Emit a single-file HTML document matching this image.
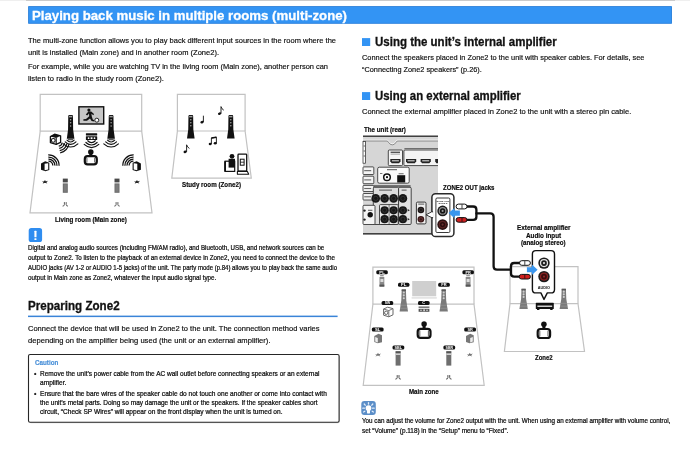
<!DOCTYPE html><html lang="en"><head><meta charset="utf-8"><title>Playing back music in multiple rooms (multi-zone)</title>
<style>
html,body{margin:0;padding:0;background:#fff;}
body{width:690px;height:451px;position:relative;overflow:hidden;font-family:"Liberation Sans",sans-serif;}
.t{position:absolute;white-space:nowrap;line-height:1;transform-origin:0 0;margin:0;padding:0;}
.r{font-weight:400;-webkit-text-stroke:0.16px currentColor;}
.h{font-weight:700;-webkit-text-stroke:0.3px currentColor;}
.b{font-weight:700;-webkit-text-stroke:0.18px currentColor;}
.m{font-weight:400;-webkit-text-stroke:0.22px currentColor;}
#page{position:absolute;left:0;top:0;width:690px;height:451px;will-change:transform;}
svg{position:absolute;left:0;top:0;}
</style></head><body><div id="page">

<svg width="690" height="451" viewBox="0 0 690 451" font-family="Liberation Sans, sans-serif">
<rect x="0" y="0" width="690" height="0.8" fill="#ececec"/>
<rect x="26" y="0" width="649" height="0.9" fill="#c8c8c8"/>
<rect x="28.3" y="6.3" width="643.6" height="17.3" fill="#3394f4"/>
<rect x="28.65" y="6.65" width="642.9" height="16.6" fill="none" stroke="#2a7cd4" stroke-width="0.7"/>
<rect x="362" y="38.1" width="8.2" height="7.9" fill="#3394f4"/>
<rect x="362" y="92.1" width="8.2" height="7.9" fill="#3394f4"/>
<rect x="28" y="315.6" width="309.6" height="1.5" fill="#3a84d8"/>
<rect x="29.2" y="355.4" width="310.6" height="67.9" rx="1.8" fill="#000" opacity="0.16"/>
<rect x="28.5" y="354.5" width="310.6" height="67.8" rx="1.6" fill="#fff" stroke="#262626" stroke-width="1.1"/>
<path d="M40.2 131.2V94.4H141.7V131.2" fill="none" stroke="#c2c2c2" stroke-width="1.2"/>
<path d="M40.2 131.2H141.7L152.0 212.9H30.0Z" fill="none" stroke="#c2c2c2" stroke-width="1.2"/>
<rect x="78.9" y="106.8" width="24.8" height="17.2" fill="#c6c6c6" stroke="#111" stroke-width="1.4"/>
<circle cx="88.9" cy="110.1" r="1.6" fill="#111"/>
<path d="M88.4 111.4L85.8 114.4L87.2 115.4L89 113.6L89.2 116.2L86 119L83.4 119.2V120.8H87L90 118.4L91.6 121L94.4 121.6V120.2L92.8 119.6L91.8 116.4L91.4 113.8L93.4 115.2L94 114L91.2 111.6Z" fill="#111"/>
<circle cx="96.8" cy="120.2" r="2" fill="#fff" stroke="#111" stroke-width="0.9"/>
<path d="M68.75 115.0H72.44999999999999L72.94999999999999 116.0L73.14999999999999 129.694L74.39999999999999 138.7H66.8L68.05 129.694L68.25 116.0Z" fill="#111"/>
<rect x="68.95" y="115.9" width="3.3000000000000003" height="1.5" fill="#9a9a9a"/>
<circle cx="70.6" cy="119.74" r="0.75" fill="#aaa"/>
<circle cx="70.6" cy="122.82" r="0.75" fill="#aaa"/>
<circle cx="70.6" cy="125.90" r="0.75" fill="#aaa"/>
<rect x="68.0" y="139.3" width="5.2" height="0.9" fill="#111"/>
<path d="M67.00 140.23Q68.62 142.00 70.6 142.0Q72.58 142.00 74.20 140.23" fill="none" stroke="#111" stroke-width="1.15" stroke-linecap="round"/>
<path d="M65.20 141.95Q67.63 144.40 70.6 144.4Q73.57 144.40 76.00 141.95" fill="none" stroke="#111" stroke-width="1.15" stroke-linecap="round"/>
<path d="M63.30 143.83Q66.58 147.00 70.6 147.0Q74.61 147.00 77.90 143.83" fill="none" stroke="#111" stroke-width="1.15" stroke-linecap="round"/>
<path d="M109.25 115.0H112.94999999999999L113.44999999999999 116.0L113.64999999999999 129.694L114.89999999999999 138.7H107.3L108.55 129.694L108.75 116.0Z" fill="#111"/>
<rect x="109.45" y="115.9" width="3.3000000000000003" height="1.5" fill="#9a9a9a"/>
<circle cx="111.1" cy="119.74" r="0.75" fill="#aaa"/>
<circle cx="111.1" cy="122.82" r="0.75" fill="#aaa"/>
<circle cx="111.1" cy="125.90" r="0.75" fill="#aaa"/>
<rect x="108.5" y="139.3" width="5.2" height="0.9" fill="#111"/>
<path d="M107.50 140.23Q109.12 142.00 111.1 142.0Q113.08 142.00 114.70 140.23" fill="none" stroke="#111" stroke-width="1.15" stroke-linecap="round"/>
<path d="M105.70 141.95Q108.13 144.40 111.1 144.4Q114.07 144.40 116.50 141.95" fill="none" stroke="#111" stroke-width="1.15" stroke-linecap="round"/>
<path d="M103.80 143.83Q107.08 147.00 111.1 147.0Q115.11 147.00 118.40 143.83" fill="none" stroke="#111" stroke-width="1.15" stroke-linecap="round"/>
<rect x="85.9" y="133.3" width="11.3" height="2.2" rx="0.5" fill="#111"/>
<rect x="85.9" y="136.3" width="11.3" height="3.8" rx="0.5" fill="#111"/>
<circle cx="88.6" cy="138.2" r="0.9" fill="#fff"/><circle cx="94.5" cy="138.2" r="0.9" fill="#fff"/><rect x="90.6" y="137.3" width="1.9" height="1.8" fill="#fff"/>
<path d="M87.70 140.76Q89.41 142.60 91.5 142.6Q93.59 142.60 95.30 140.76" fill="none" stroke="#111" stroke-width="1.15" stroke-linecap="round"/>
<path d="M85.90 142.47Q88.42 145.00 91.5 145.0Q94.58 145.00 97.10 142.47" fill="none" stroke="#111" stroke-width="1.15" stroke-linecap="round"/>
<path d="M84.20 144.43Q87.48 147.60 91.5 147.6Q95.52 147.60 98.80 144.43" fill="none" stroke="#111" stroke-width="1.15" stroke-linecap="round"/>
<path d="M50.4 136.6L54.6 134.2L60.6 135.8V142.4L56.2 144.4L50.4 142.6Z" fill="#fff" stroke="#111" stroke-width="1.3" stroke-linejoin="round"/>
<path d="M50.4 136.6L54.6 134.2L60.6 135.8L56.2 137.9Z" fill="#111"/>
<path d="M56.2 137.9V144.4" fill="none" stroke="#111" stroke-width="1.1"/>
<circle cx="53.3" cy="140.4" r="1.9" fill="#fff" stroke="#111" stroke-width="1.1"/>
<path d="M62.30 142.56A4.60 4.60 0 0 1 58.76 146.10" fill="none" stroke="#111" stroke-width="1.2"/>
<path d="M64.55 143.03A6.90 6.90 0 0 1 59.23 148.35" fill="none" stroke="#111" stroke-width="1.2"/>
<path d="M66.80 143.51A9.20 9.20 0 0 1 59.71 150.60" fill="none" stroke="#111" stroke-width="1.2"/>
<path d="M69.05 143.99A11.50 11.50 0 0 1 60.19 152.85" fill="none" stroke="#111" stroke-width="1.2"/>
<circle cx="90.8" cy="151.9" r="2.75" fill="#111"/>
<rect x="89.3" y="153.4" width="3" height="3.299999999999983" fill="#111"/>
<rect x="84.8" y="156.2" width="12.0" height="8.100000000000023" rx="2.8" fill="#fff" stroke="#111" stroke-width="2.2"/>
<path d="M86.89999999999999 158.0V162.5M94.7 158.0V162.5" stroke="#111" stroke-width="0.7" fill="none"/>
<path d="M41.00 163.50L45.20 161.30L49.30 162.70L49.30 169.90L45.40 171.30L41.00 169.70Z" fill="#111"/>
<path d="M44.60 163.70L48.20 163.30L48.20 169.50L44.60 170.20Z" fill="#fff"/>
<path d="M48.45 161.20A4.20 4.20 0 0 1 52.80 165.55" fill="none" stroke="#111" stroke-width="1.25"/>
<path d="M48.38 159.10A6.30 6.30 0 0 1 54.90 165.62" fill="none" stroke="#111" stroke-width="1.25"/>
<path d="M48.31 157.01A8.40 8.40 0 0 1 56.99 165.69" fill="none" stroke="#111" stroke-width="1.25"/>
<path d="M48.23 154.91A10.50 10.50 0 0 1 59.09 165.77" fill="none" stroke="#111" stroke-width="1.25"/>
<path d="M140.90 163.50L136.70 161.30L132.60 162.70L132.60 169.90L136.50 171.30L140.90 169.70Z" fill="#111"/>
<path d="M137.30 163.70L133.70 163.30L133.70 169.50L137.30 170.20Z" fill="#fff"/>
<path d="M129.10 165.55A4.20 4.20 0 0 1 133.45 161.20" fill="none" stroke="#111" stroke-width="1.25"/>
<path d="M127.00 165.62A6.30 6.30 0 0 1 133.52 159.10" fill="none" stroke="#111" stroke-width="1.25"/>
<path d="M124.91 165.69A8.40 8.40 0 0 1 133.59 157.01" fill="none" stroke="#111" stroke-width="1.25"/>
<path d="M122.81 165.77A10.50 10.50 0 0 1 133.67 154.91" fill="none" stroke="#111" stroke-width="1.25"/>
<path d="M42.0 181.4L44.0 181.60000000000002L45.0 180.0L45.8 181.4L48.0 180.8L46.4 182.4L47.4 183.60000000000002L45.0 182.8L42.4 183.60000000000002L43.6 182.4Z" fill="#111"/>
<path d="M134.0 181.4L136.0 181.60000000000002L137.0 180.0L137.8 181.4L140.0 180.8L138.4 182.4L139.4 183.60000000000002L137.0 182.8L134.4 183.60000000000002L135.6 182.4Z" fill="#111"/>
<rect x="62.8" y="178.6" width="5" height="3.8" fill="#4a4a4a"/>
<rect x="62.8" y="183.4" width="5" height="9.4" fill="#6a6a6a"/>
<rect x="63.699999999999996" y="184.4" width="3.2" height="7.4" fill="#7c7c7c"/>
<path d="M64.39999999999999 202.1V204.6Q64.39999999999999 206.1 62.599999999999994 206.1M66.2 202.1V204.6Q66.2 206.1 68.0 206.1" fill="none" stroke="#555" stroke-width="0.95"/>
<rect x="114.5" y="178.6" width="5" height="3.8" fill="#4a4a4a"/>
<rect x="114.5" y="183.4" width="5" height="9.4" fill="#6a6a6a"/>
<rect x="115.4" y="184.4" width="3.2" height="7.4" fill="#7c7c7c"/>
<path d="M116.1 202.1V204.6Q116.1 206.1 114.3 206.1M117.9 202.1V204.6Q117.9 206.1 119.7 206.1" fill="none" stroke="#555" stroke-width="0.95"/>
<path d="M177.4 131.0V94.3H245.1V131.0" fill="none" stroke="#c2c2c2" stroke-width="1.2"/>
<path d="M177.4 131.0H245.1L251.3 178.2H171.8Z" fill="none" stroke="#c2c2c2" stroke-width="1.2"/>
<path d="M188.95000000000002 115.0H192.65L193.15 116.0L193.35 129.57L194.60000000000002 138.5H187.0L188.25000000000003 129.57L188.45000000000002 116.0Z" fill="#111"/>
<rect x="189.15" y="115.9" width="3.3000000000000003" height="1.5" fill="#9a9a9a"/>
<circle cx="190.8" cy="119.70" r="0.75" fill="#aaa"/>
<circle cx="190.8" cy="122.75" r="0.75" fill="#aaa"/>
<circle cx="190.8" cy="125.81" r="0.75" fill="#aaa"/>
<path d="M228.95000000000002 115.0H232.65L233.15 116.0L233.35 129.57L234.60000000000002 138.5H227.0L228.25000000000003 129.57L228.45000000000002 116.0Z" fill="#111"/>
<rect x="229.15" y="115.9" width="3.3000000000000003" height="1.5" fill="#9a9a9a"/>
<circle cx="230.8" cy="119.70" r="0.75" fill="#aaa"/>
<circle cx="230.8" cy="122.75" r="0.75" fill="#aaa"/>
<circle cx="230.8" cy="125.81" r="0.75" fill="#aaa"/>
<ellipse cx="202.0" cy="122.2" rx="1.7" ry="1.3" fill="#111" transform="rotate(-20 202.0 122.2)"/>
<path d="M203.4 122.2V115.7" fill="none" stroke="#111" stroke-width="0.9"/>
<ellipse cx="219.6" cy="113.6" rx="1.7" ry="1.3" fill="#111" transform="rotate(-20 219.6 113.6)"/>
<path d="M221.0 113.6V106.6Q221.6 109.0 223.79999999999998 110.19999999999999" fill="none" stroke="#111" stroke-width="0.9"/>
<ellipse cx="210.2" cy="144.0" rx="1.5" ry="1.2" fill="#111"/><ellipse cx="215.2" cy="143.2" rx="1.5" ry="1.2" fill="#111"/>
<path d="M211.39999999999998 144.0V138.0L216.39999999999998 137.2V143.2" fill="none" stroke="#111" stroke-width="0.9"/>
<path d="M211.39999999999998 138.0L216.39999999999998 137.2" fill="none" stroke="#111" stroke-width="1.6"/>
<ellipse cx="185.2" cy="151.8" rx="1.7" ry="1.3" fill="#111" transform="rotate(-20 185.2 151.8)"/>
<path d="M186.6 151.8V144.8Q187.2 147.20000000000002 189.39999999999998 148.4" fill="none" stroke="#111" stroke-width="0.9"/>
<rect x="225.1" y="161.2" width="9.6" height="10.2" fill="#fff" stroke="#111" stroke-width="1.2"/>
<path d="M225.1 161.2V171.4" stroke="#111" stroke-width="1.8"/>
<circle cx="232.0" cy="156.3" r="2.4" fill="#111"/>
<rect x="228.6" y="158.8" width="6.4" height="8.8" fill="#111"/>
<rect x="238.0" y="154.1" width="8.7" height="17.0" rx="0.8" fill="#fff" stroke="#111" stroke-width="1.3"/>
<rect x="240.3" y="159.2" width="3.8" height="6.0" fill="#fff" stroke="#111" stroke-width="1"/>
<path d="M240.3 162.2H244.1" stroke="#111" stroke-width="0.8"/>
<path d="M237.4 171.4H247.4L248.7 174.2H237.4Z" fill="#fff" stroke="#111" stroke-width="1.1" stroke-linejoin="round"/>
<rect x="28.7" y="228.1" width="13.4" height="13.9" rx="2.6" fill="#2f8df0"/>
<rect x="34.4" y="230.7" width="2.1" height="6.5" rx="0.5" fill="#fff"/><rect x="34.4" y="238.2" width="2.1" height="1.8" rx="0.5" fill="#fff"/>
<rect x="361.3" y="400.9" width="14.5" height="14.2" rx="3" fill="#5b8ec8"/>
<g stroke="#e3eefa" stroke-width="1.3" stroke-linecap="round"><path d="M368.5 402.6V404M364.2 404L365.2 405.2M372.8 404L371.8 405.2M362.8 408.2H364.4M374.2 408.2H372.6M363.6 412L364.8 411.2M373.4 412L372.2 411.2"/></g>
<circle cx="368.5" cy="408.1" r="2.9" fill="#fff"/><rect x="367" y="409.8" width="3" height="3.6" rx="0.6" fill="#fff"/>
<rect x="363" y="135.6" width="75" height="98.6" fill="#d6d6d6"/>
<rect x="363" y="135.6" width="75" height="1.2" fill="#1c1c1c"/>
<rect x="363" y="233.2" width="75" height="1.3" fill="#1c1c1c"/>
<path d="M363 140.2H387.6L390.4 143.4Q392.3 144.6 394.2 143.4L397 140.2H438" fill="none" stroke="#fff" stroke-width="0.9"/>
<path d="M363 141H387.4L390.2 144.2Q392.3 145.5 394.4 144.2L397.2 141H438" fill="none" stroke="#555" stroke-width="0.6"/>
<rect x="363" y="141.6" width="2.6" height="21.6" fill="#fff" stroke="#222" stroke-width="0.7"/>
<rect x="363" y="166.9" width="10.8" height="7.6" rx="0.8" fill="#f4f4f4" stroke="#2a2a2a" stroke-width="0.8"/>
<rect x="364.2" y="170.09" width="7" height="1.1" fill="#666"/>
<rect x="363" y="176.2" width="10.8" height="7.5" rx="0.8" fill="#f4f4f4" stroke="#2a2a2a" stroke-width="0.8"/>
<rect x="364.2" y="179.35" width="7" height="1.1" fill="#666"/>
<rect x="363" y="185.4" width="10.8" height="6.1" rx="0.8" fill="#f4f4f4" stroke="#2a2a2a" stroke-width="0.8"/>
<rect x="364.2" y="187.96" width="7" height="1.1" fill="#666"/>
<rect x="363" y="193.5" width="10.8" height="6.5" rx="0.8" fill="#f0f0f0" stroke="#2a2a2a" stroke-width="0.8"/>
<rect x="364.2" y="196.23" width="7" height="1.1" fill="#666"/>
<path d="M363.6 146H365M363.6 151H365M363.6 156H365" stroke="#444" stroke-width="0.8"/>
<rect x="388.3" y="150" width="14.2" height="15.6" rx="1" fill="#f4f4f4" stroke="#222" stroke-width="0.8"/>
<rect x="390.6" y="151.6" width="9.4" height="1.6" fill="#555"/><rect x="390.6" y="154.2" width="9.4" height="0.6" fill="#999"/>
<path d="M390.3 159.0H400.5V161.31L399.1 163.2H391.7L390.3 161.31Z" fill="#222"/>
<rect x="391.90000000000003" y="160.1" width="6.999999999999999" height="1.3" fill="#bbb"/>
<path d="M438 150H404.9Q403.9 150 403.9 151V164.6Q403.9 165.6 404.9 165.6H438" fill="#f4f4f4" stroke="#222" stroke-width="0.8"/>
<rect x="404.4" y="148" width="33.6" height="0.8" fill="#555"/>
<path d="M406.0 159.0H416.2V161.31L414.8 163.2H407.4L406.0 161.31Z" fill="#222"/>
<rect x="407.6" y="160.1" width="6.999999999999999" height="1.3" fill="#bbb"/>
<path d="M420.6 159.0H430.8V161.31L429.40000000000003 163.2H422.0L420.6 161.31Z" fill="#222"/>
<rect x="422.20000000000005" y="160.1" width="6.999999999999999" height="1.3" fill="#bbb"/>
<path d="M438 159H435.2V161.4L436.4 163.2H438Z" fill="#222"/>
<rect x="377.7" y="167.2" width="31.5" height="16" rx="1.6" fill="#fafafa" stroke="#222" stroke-width="0.8"/>
<rect x="387" y="169.2" width="10" height="1" fill="#555"/>
<circle cx="387" cy="177.2" r="3.3" fill="#fff" stroke="#111" stroke-width="1.5"/><circle cx="387" cy="177.2" r="1.1" fill="#111"/>
<rect x="397.2" y="175.2" width="8" height="7.3" fill="#111"/><rect x="398.6" y="173.4" width="5" height="0.8" fill="#444"/>
<rect x="380" y="173" width="2.4" height="0.8" fill="#555"/>
<rect x="373.3" y="187.3" width="25.3" height="37.2" rx="1.2" fill="#dcdcdc" stroke="#222" stroke-width="0.8"/>
<rect x="398.6" y="187.3" width="12.6" height="37.2" rx="1.2" fill="#e2e2e2" stroke="#222" stroke-width="0.8"/>
<rect x="374" y="185.4" width="36.6" height="1.2" fill="#333"/>
<rect x="379" y="189.6" width="13" height="1" fill="#555"/><rect x="401.6" y="189.6" width="5" height="1" fill="#555"/>
<rect x="379.5" y="204.6" width="18.7" height="19.9" rx="1" fill="#eaeaea" stroke="#222" stroke-width="0.8"/>
<path d="M389.1 204.6V224.5" stroke="#222" stroke-width="0.6"/>
<circle cx="375.7" cy="198.4" r="4.3" fill="#171717"/>
<circle cx="375.7" cy="198.4" r="2.15" fill="none" stroke="#484848" stroke-width="0.5"/>
<circle cx="384.6" cy="198.4" r="4.3" fill="#171717"/>
<circle cx="384.6" cy="198.4" r="2.15" fill="none" stroke="#484848" stroke-width="0.5"/>
<circle cx="393.6" cy="198.4" r="4.3" fill="#171717"/>
<circle cx="393.6" cy="198.4" r="2.15" fill="none" stroke="#484848" stroke-width="0.5"/>
<circle cx="402.9" cy="198.4" r="4.3" fill="#171717"/>
<circle cx="402.9" cy="198.4" r="2.15" fill="none" stroke="#484848" stroke-width="0.5"/>
<circle cx="384.6" cy="210.3" r="4.1" fill="#171717"/>
<circle cx="384.6" cy="210.3" r="2.05" fill="none" stroke="#484848" stroke-width="0.5"/>
<circle cx="393.6" cy="210.3" r="4.1" fill="#171717"/>
<circle cx="393.6" cy="210.3" r="2.05" fill="none" stroke="#484848" stroke-width="0.5"/>
<circle cx="402.9" cy="210.3" r="4.1" fill="#171717"/>
<circle cx="402.9" cy="210.3" r="2.05" fill="none" stroke="#484848" stroke-width="0.5"/>
<path d="M407.6 209.0L409.8 210.3L407.6 211.60000000000002Z" fill="#222"/>
<circle cx="384.6" cy="219.2" r="4.1" fill="#171717"/>
<circle cx="384.6" cy="219.2" r="2.05" fill="none" stroke="#484848" stroke-width="0.5"/>
<circle cx="393.6" cy="219.2" r="4.1" fill="#171717"/>
<circle cx="393.6" cy="219.2" r="2.05" fill="none" stroke="#484848" stroke-width="0.5"/>
<circle cx="402.9" cy="219.2" r="4.1" fill="#171717"/>
<circle cx="402.9" cy="219.2" r="2.05" fill="none" stroke="#484848" stroke-width="0.5"/>
<path d="M407.6 217.89999999999998L409.8 219.2L407.6 220.5Z" fill="#222"/>
<rect x="363" y="205.3" width="12" height="19.2" rx="1" fill="#f4f4f4" stroke="#222" stroke-width="0.8"/>
<circle cx="370.2" cy="214.8" r="2.7" fill="#111"/><rect x="368" y="209.8" width="4.4" height="0.9" fill="#444"/>
<circle cx="364.5" cy="210.6" r="1.2" fill="#222"/><circle cx="364.5" cy="219.6" r="1.2" fill="#222"/>
<rect x="416.4" y="202.1" width="9.6" height="21.8" rx="1.2" fill="#efefef" stroke="#222" stroke-width="0.9"/>
<rect x="418.2" y="203.6" width="6" height="1" fill="#555"/>
<circle cx="420.9" cy="210.0" r="3.3" fill="#1d1616"/>
<circle cx="420.9" cy="210.0" r="1.65" fill="none" stroke="#484848" stroke-width="0.5"/>
<circle cx="420.9" cy="219.3" r="3.3" fill="#3a1616"/>
<circle cx="420.9" cy="219.3" r="1.65" fill="none" stroke="#8a5050" stroke-width="0.5"/>
<rect x="431.9" y="193.7" width="22" height="42.8" rx="3.6" fill="#fff" stroke="#2a2a2a" stroke-width="1.5"/>
<path d="M432.6 211.4L426 214.8L432.6 218Z" fill="#fff" stroke="#2a2a2a" stroke-width="0.9" stroke-linejoin="round"/>
<path d="M432.4 212.4V217" stroke="#fff" stroke-width="1.9"/>
<rect x="435.9" y="198" width="14" height="34.5" rx="1.2" fill="#fff" stroke="#222" stroke-width="0.9"/>
<text x="442.9" y="201.9" font-size="2.5" font-weight="700" text-anchor="middle" fill="#222">ZONE OUT</text>
<text x="442.9" y="204.4" font-size="2.5" font-weight="700" text-anchor="middle" fill="#222">ZONE 2</text>
<circle cx="442.6" cy="210.9" r="5.3" fill="#1b1b1b"/>
<circle cx="442.6" cy="210.9" r="3.82" fill="#8f8f8f"/>
<circle cx="442.6" cy="210.9" r="2.65" fill="#111"/>
<circle cx="442.6" cy="210.9" r="1.06" fill="#999"/>
<circle cx="442.6" cy="224.6" r="5.3" fill="#2a1212"/>
<circle cx="442.6" cy="224.6" r="3.82" fill="#5a2222"/>
<circle cx="442.6" cy="224.6" r="2.65" fill="#2a0e0e"/>
<circle cx="442.6" cy="224.6" r="1.06" fill="#6a3030"/>
<path d="M372.9 304.2V267.1H474.0V304.2" fill="none" stroke="#c2c2c2" stroke-width="1.2"/>
<path d="M372.9 304.2H474.0L484.2 385.3H363.2Z" fill="none" stroke="#c2c2c2" stroke-width="1.2"/>
<rect x="412.2" y="281" width="24" height="15.3" fill="#cfcfcf"/>
<rect x="411.6" y="297.6" width="25.2" height="0.7" fill="#bbb"/>
<path d="M401.7 289.4H405.90000000000003L406.3 300.4L408.0 311.4H399.6L401.3 300.4Z" fill="#7a7a7a"/>
<rect x="401.7" y="289.4" width="4.2" height="1.6" fill="#5a5a5a"/>
<circle cx="403.8" cy="292.48" r="1.05" fill="#cfcfcf"/>
<circle cx="403.8" cy="295.34" r="1.05" fill="#cfcfcf"/>
<circle cx="403.8" cy="298.20" r="1.05" fill="#cfcfcf"/>
<path d="M400.6 305.23999999999995H407.0M400.1 308.32H407.5" stroke="#9c9c9c" stroke-width="0.6"/>
<path d="M441.59999999999997 289.4H445.8L446.2 300.4L447.9 311.4H439.5L441.2 300.4Z" fill="#7a7a7a"/>
<rect x="441.59999999999997" y="289.4" width="4.2" height="1.6" fill="#5a5a5a"/>
<circle cx="443.7" cy="292.48" r="1.05" fill="#cfcfcf"/>
<circle cx="443.7" cy="295.34" r="1.05" fill="#cfcfcf"/>
<circle cx="443.7" cy="298.20" r="1.05" fill="#cfcfcf"/>
<path d="M440.5 305.23999999999995H446.9M440.0 308.32H447.4" stroke="#9c9c9c" stroke-width="0.6"/>
<rect x="379.5" y="277" width="4.8" height="9.6" fill="#8a8a8a"/><rect x="380.4" y="279" width="3" height="3" fill="#ddd"/><rect x="379.5" y="284.6" width="4.8" height="2" fill="#555"/><rect x="380.09999999999997" y="275.4" width="3.6" height="0.8" fill="#555"/>
<rect x="465.70000000000005" y="277" width="4.8" height="9.6" fill="#8a8a8a"/><rect x="466.6" y="279" width="3" height="3" fill="#ddd"/><rect x="465.70000000000005" y="284.6" width="4.8" height="2" fill="#555"/><rect x="466.3" y="275.4" width="3.6" height="0.8" fill="#555"/>
<rect x="376.3" y="270.3" width="11.50" height="4.00" rx="1.5" fill="#111"/>
<text x="382.05" y="273.75" font-size="4.3" font-weight="700" fill="#fff" text-anchor="middle" textLength="5.4" lengthAdjust="spacingAndGlyphs">PL</text>
<rect x="462.4" y="270.3" width="11.50" height="4.00" rx="1.5" fill="#111"/>
<text x="468.15" y="273.75" font-size="4.3" font-weight="700" fill="#fff" text-anchor="middle" textLength="5.4" lengthAdjust="spacingAndGlyphs">PR</text>
<rect x="398.0" y="282.7" width="11.40" height="4.00" rx="1.5" fill="#111"/>
<text x="403.70" y="286.15" font-size="4.3" font-weight="700" fill="#fff" text-anchor="middle" textLength="5.4" lengthAdjust="spacingAndGlyphs">FL</text>
<rect x="438.2" y="282.7" width="11.60" height="4.00" rx="1.5" fill="#111"/>
<text x="444.00" y="286.15" font-size="4.3" font-weight="700" fill="#fff" text-anchor="middle" textLength="5.4" lengthAdjust="spacingAndGlyphs">FR</text>
<rect x="381.6" y="301.0" width="11.60" height="4.00" rx="1.5" fill="#111"/>
<text x="387.40" y="304.45" font-size="4.3" font-weight="700" fill="#fff" text-anchor="middle" textLength="5.4" lengthAdjust="spacingAndGlyphs">SW</text>
<rect x="418.0" y="301.0" width="11.60" height="4.00" rx="1.5" fill="#111"/>
<text x="423.80" y="304.45" font-size="4.3" font-weight="700" fill="#fff" text-anchor="middle" textLength="2.9" lengthAdjust="spacingAndGlyphs">C</text>
<path d="M383.6 309L387.6 307.2L393 308.6V314.8L388.8 316.8L383.6 315.2Z" fill="#fff" stroke="#666" stroke-width="1"/>
<path d="M383.6 309L388.8 310.6V316.8M388.8 310.6L393 308.6" fill="none" stroke="#666" stroke-width="0.9"/>
<circle cx="386.2" cy="312.8" r="1.7" fill="#fff" stroke="#666" stroke-width="1"/>
<rect x="418.6" y="306.4" width="10.8" height="1.6" fill="#777"/><rect x="418.6" y="308.8" width="10.8" height="3" fill="#555"/>
<circle cx="421" cy="310.3" r="0.8" fill="#ddd"/><circle cx="427" cy="310.3" r="0.8" fill="#ddd"/><rect x="423.3" y="309.4" width="1.6" height="1.8" fill="#ddd"/>
<circle cx="424.1" cy="324.0" r="2.75" fill="#111"/>
<rect x="422.6" y="325.5" width="3" height="3.8000000000000114" fill="#111"/>
<rect x="417.70000000000005" y="328.8" width="12.8" height="9.0" rx="2.8" fill="#fff" stroke="#111" stroke-width="2.2"/>
<path d="M419.80000000000007 330.6V336.0M428.4 330.6V336.0" stroke="#111" stroke-width="0.7" fill="none"/>
<rect x="371.8" y="327.6" width="11.80" height="4.00" rx="1.5" fill="#111"/>
<text x="377.70" y="331.05" font-size="4.3" font-weight="700" fill="#fff" text-anchor="middle" textLength="5.4" lengthAdjust="spacingAndGlyphs">SL</text>
<rect x="464.2" y="327.6" width="11.80" height="4.00" rx="1.5" fill="#111"/>
<text x="470.10" y="331.05" font-size="4.3" font-weight="700" fill="#fff" text-anchor="middle" textLength="5.4" lengthAdjust="spacingAndGlyphs">SR</text>
<rect x="392.5" y="345.4" width="11.80" height="4.00" rx="1.5" fill="#111"/>
<text x="398.40" y="348.85" font-size="4.3" font-weight="700" fill="#fff" text-anchor="middle" textLength="7.6" lengthAdjust="spacingAndGlyphs">SBL</text>
<rect x="443.4" y="345.4" width="11.80" height="4.00" rx="1.5" fill="#111"/>
<text x="449.30" y="348.85" font-size="4.3" font-weight="700" fill="#fff" text-anchor="middle" textLength="7.6" lengthAdjust="spacingAndGlyphs">SBR</text>
<path d="M374.3 335.89L378.535 333.8L382.0 335.225V342.16L377.765 343.3L374.3 341.875Z" fill="#777"/>
<path d="M375.2 337L377.8 337.9V342.4L375.2 341.4Z" fill="#eee"/>
<path d="M466.0 335.89L470.235 333.8L473.7 335.225V342.16L469.465 343.3L466.0 341.875Z" fill="#777"/>
<path d="M472.8 337L470.2 337.9V342.4L472.8 341.4Z" fill="#eee"/>
<path d="M375.0 354.20000000000005L377.0 354.40000000000003L378.0 352.8L378.8 354.20000000000005L381.0 353.6L379.4 355.20000000000005L380.4 356.40000000000003L378.0 355.6L375.4 356.40000000000003L376.6 355.20000000000005Z" fill="#6a6a6a"/>
<path d="M466.8 354.20000000000005L468.8 354.40000000000003L469.8 352.8L470.6 354.20000000000005L472.8 353.6L471.2 355.20000000000005L472.2 356.40000000000003L469.8 355.6L467.2 356.40000000000003L468.40000000000003 355.20000000000005Z" fill="#6a6a6a"/>
<rect x="395.6" y="351.4" width="5" height="14.2" fill="#6e6e6e"/><rect x="395.6" y="351.4" width="5" height="1.2" fill="#444"/><rect x="395.6" y="353.4" width="5" height="1.6" fill="#cfcfcf"/>
<path d="M397.20000000000005 375.09999999999997V377.59999999999997Q397.20000000000005 379.09999999999997 395.40000000000003 379.09999999999997M399.0 375.09999999999997V377.59999999999997Q399.0 379.09999999999997 400.8 379.09999999999997" fill="none" stroke="#444" stroke-width="0.95"/>
<rect x="446.3" y="351.4" width="5" height="14.2" fill="#6e6e6e"/><rect x="446.3" y="351.4" width="5" height="1.2" fill="#444"/><rect x="446.3" y="353.4" width="5" height="1.6" fill="#cfcfcf"/>
<path d="M447.90000000000003 375.09999999999997V377.59999999999997Q447.90000000000003 379.09999999999997 446.1 379.09999999999997M449.7 375.09999999999997V377.59999999999997Q449.7 379.09999999999997 451.5 379.09999999999997" fill="none" stroke="#444" stroke-width="0.95"/>
<path d="M510.0 303.6V266.6H578.0V303.6" fill="none" stroke="#c2c2c2" stroke-width="1.2"/>
<path d="M510.0 303.6H578.0L584.5 351.5H504.4Z" fill="none" stroke="#c2c2c2" stroke-width="1.2"/>
<path d="M521.5 288.8H525.7L526.1 298.9L527.8000000000001 309.0H519.4L521.1 298.9Z" fill="#7a7a7a"/>
<rect x="521.5" y="288.8" width="4.2" height="1.6" fill="#5a5a5a"/>
<circle cx="523.6" cy="291.63" r="1.05" fill="#cfcfcf"/>
<circle cx="523.6" cy="294.25" r="1.05" fill="#cfcfcf"/>
<circle cx="523.6" cy="296.88" r="1.05" fill="#cfcfcf"/>
<path d="M520.4 303.344H526.8000000000001M519.9 306.172H527.3000000000001" stroke="#9c9c9c" stroke-width="0.6"/>
<path d="M561.6999999999999 288.8H565.9L566.3 298.9L568.0 309.0H559.5999999999999L561.3 298.9Z" fill="#7a7a7a"/>
<rect x="561.6999999999999" y="288.8" width="4.2" height="1.6" fill="#5a5a5a"/>
<circle cx="563.8" cy="291.63" r="1.05" fill="#cfcfcf"/>
<circle cx="563.8" cy="294.25" r="1.05" fill="#cfcfcf"/>
<circle cx="563.8" cy="296.88" r="1.05" fill="#cfcfcf"/>
<path d="M560.5999999999999 303.344H567.0M560.0999999999999 306.172H567.5" stroke="#9c9c9c" stroke-width="0.6"/>
<rect x="535.8" y="302.8" width="18" height="6.2" rx="0.6" fill="#111"/><rect x="537.4" y="305.6" width="14.8" height="1.2" fill="#fff"/><rect x="537" y="309" width="2.4" height="1" fill="#111"/><rect x="550.2" y="309" width="2.4" height="1" fill="#111"/>
<circle cx="543.9" cy="324.2" r="2.75" fill="#111"/>
<rect x="542.4" y="325.7" width="3" height="3.8000000000000114" fill="#111"/>
<rect x="537.6999999999999" y="329.0" width="12.4" height="9.0" rx="2.8" fill="#fff" stroke="#111" stroke-width="2.2"/>
<path d="M539.8 330.8V336.2M548.0 330.8V336.2" stroke="#111" stroke-width="0.7" fill="none"/>
<path d="M535.9 250.6H551Q554.5 250.6 554.5 254.1V289.4Q554.5 292.9 551 292.9H547.3L544 299.4L540.9 292.9H535.9Q532.4 292.9 532.4 289.4V254.1Q532.4 250.6 535.9 250.6Z" fill="#fff" stroke="#111" stroke-width="1.4" stroke-linejoin="round"/>
<circle cx="544.0" cy="263.1" r="5.7" fill="#1b1b1b"/>
<circle cx="544.0" cy="263.1" r="4.10" fill="#e4e4e4"/>
<circle cx="544.0" cy="263.1" r="2.85" fill="#1b1b1b"/>
<circle cx="544.0" cy="263.1" r="1.14" fill="#d8d8d8"/>
<circle cx="544.0" cy="276.6" r="5.7" fill="#1b1b1b"/>
<circle cx="544.0" cy="276.6" r="4.10" fill="#8a2222"/>
<circle cx="544.0" cy="276.6" r="2.85" fill="#3a0c0c"/>
<circle cx="544.0" cy="276.6" r="1.14" fill="#8a2a2a"/>
<text x="543.9" y="288.9" font-size="4.1" font-weight="700" text-anchor="middle" fill="#111" textLength="12.4" lengthAdjust="spacingAndGlyphs">AUDIO</text>
<path d="M448.6 213.1L454.5 208V210.6H459.9V215.7H454.5V218.3Z" fill="#3a96ee"/>
<path d="M537.6 269.7L531.9 264.6V267.2H526.9V272.3H531.9V274.9Z" fill="#3a96ee"/>
<path d="M466.6 206.5H473.2Q476.4 206.5 476.4 209.7V216.7Q476.4 219.9 473.2 219.9H466.6" fill="none" stroke="#111" stroke-width="2.3" stroke-linecap="round" stroke-linejoin="round"/>
<path d="M476.4 213.4H490.2Q493.6 213.4 493.6 216.8V266.2Q493.6 269.7 497 269.7H510.6" fill="none" stroke="#111" stroke-width="2.3" stroke-linecap="round" stroke-linejoin="round"/>
<path d="M519.8 263H514.2Q511 263 511 266.2V273.4Q511 276.6 514.2 276.6H519.8" fill="none" stroke="#111" stroke-width="2.3" stroke-linecap="round" stroke-linejoin="round"/>
<rect x="456.1" y="204.1" width="10.9" height="4.8" rx="2.40" fill="#fff" stroke="#111" stroke-width="1"/>
<path d="M462.0 204.5V208.5" stroke="#111" stroke-width="0.8"/>
<rect x="456.1" y="217.6" width="10.9" height="4.6" rx="2.30" fill="#d01f1f" stroke="#111" stroke-width="1"/>
<path d="M462.0 218.0V221.79999999999998" stroke="#111" stroke-width="0.8"/>
<rect x="519.5" y="260.7" width="10.9" height="4.6" rx="2.30" fill="#fff" stroke="#111" stroke-width="1"/>
<path d="M524.8 261.09999999999997V264.90000000000003" stroke="#111" stroke-width="0.8"/>
<rect x="519.2" y="274.4" width="11.2" height="4.6" rx="2.30" fill="#d01f1f" stroke="#111" stroke-width="1"/>
<path d="M524.8 274.79999999999995V278.6" stroke="#111" stroke-width="0.8"/>
</svg>
<div class="t h" style="left:31.5px;top:8px;line-height:15px;height:15px;font-size:12.8px;color:#fff;transform:scaleX(1.0326);">Playing back music in multiple rooms (multi-zone)</div>
<div class="t r" style="left:28px;top:36px;line-height:9px;height:9px;font-size:7.7px;color:#0c0c0c;transform:scaleX(0.9771);">The multi-zone function allows you to play back different input sources in the room where the</div>
<div class="t r" style="left:28px;top:48px;line-height:9px;height:9px;font-size:7.7px;color:#0c0c0c;transform:scaleX(0.9781);">unit is installed (Main zone) and in another room (Zone2).</div>
<div class="t r" style="left:28px;top:62px;line-height:9px;height:9px;font-size:7.7px;color:#0c0c0c;transform:scaleX(0.9675);">For example, while you are watching TV in the living room (Main zone), another person can</div>
<div class="t r" style="left:28px;top:74px;line-height:9px;height:9px;font-size:7.7px;color:#0c0c0c;transform:scaleX(0.9839);">listen to radio in the study room (Zone2).</div>
<div class="t b" style="left:55px;top:216px;line-height:7px;height:7px;font-size:6.7px;color:#0c0c0c;transform:scaleX(0.9336);">Living room (Main zone)</div>
<div class="t b" style="left:181.8px;top:181px;line-height:7px;height:7px;font-size:6.7px;color:#0c0c0c;transform:scaleX(0.9340);">Study room (Zone2)</div>
<div class="t m" style="left:28px;top:244px;line-height:7px;height:7px;font-size:6.8px;color:#0c0c0c;transform:scaleX(0.9119);">Digital and analog audio sources (including FM/AM radio), and Bluetooth, USB, and network sources can be</div>
<div class="t m" style="left:28px;top:254px;line-height:7px;height:7px;font-size:6.8px;color:#0c0c0c;transform:scaleX(0.9205);">output to Zone2. To listen to the playback of an external device in Zone2, you need to connect the device to the</div>
<div class="t m" style="left:28px;top:264px;line-height:7px;height:7px;font-size:6.8px;color:#0c0c0c;transform:scaleX(0.8868);">AUDIO jacks (AV 1-2 or AUDIO 1-5 jacks) of the unit. The party mode (p.84) allows you to play back the same audio</div>
<div class="t m" style="left:28px;top:274px;line-height:7px;height:7px;font-size:6.8px;color:#0c0c0c;transform:scaleX(0.9245);">output in Main zone as Zone2, whatever the input audio signal type.</div>
<div class="t h" style="left:28.3px;top:299px;line-height:14px;height:14px;font-size:12.4px;color:#111;transform:scaleX(0.9368);">Preparing Zone2</div>
<div class="t r" style="left:28px;top:324px;line-height:9px;height:9px;font-size:7.7px;color:#0c0c0c;transform:scaleX(0.9777);">Connect the device that will be used in Zone2 to the unit. The connection method varies</div>
<div class="t r" style="left:28px;top:336px;line-height:9px;height:9px;font-size:7.7px;color:#0c0c0c;transform:scaleX(0.9886);">depending on the amplifier being used (the unit or an external amplifier).</div>
<div class="t b" style="left:34.7px;top:359px;line-height:7px;height:7px;font-size:6.3px;color:#4a90d8;transform:scaleX(0.9941);">Caution</div>
<div class="t m" style="left:40px;top:370px;line-height:7px;height:7px;font-size:6.8px;color:#0c0c0c;transform:scaleX(0.9587);">Remove the unit’s power cable from the AC wall outlet before connecting speakers or an external</div>
<div class="t m" style="left:40px;top:379px;line-height:7px;height:7px;font-size:6.8px;color:#0c0c0c;transform:scaleX(0.9668);">amplifier.</div>
<div class="t m" style="left:40px;top:390px;line-height:7px;height:7px;font-size:6.8px;color:#0c0c0c;transform:scaleX(0.9657);">Ensure that the bare wires of the speaker cable do not touch one another or come into contact with</div>
<div class="t m" style="left:40px;top:399px;line-height:7px;height:7px;font-size:6.8px;color:#0c0c0c;transform:scaleX(0.9543);">the unit’s metal parts. Doing so may damage the unit or the speakers. If the speaker cables short</div>
<div class="t m" style="left:40px;top:408px;line-height:7px;height:7px;font-size:6.8px;color:#0c0c0c;transform:scaleX(0.9672);">circuit, “Check SP Wires” will appear on the front display when the unit is turned on.</div>
<div class="t m" style="left:33.8px;top:370px;line-height:7px;height:7px;font-size:6.8px;color:#0c0c0c;transform:scaleX(1.0039);">•</div>
<div class="t m" style="left:33.8px;top:390px;line-height:7px;height:7px;font-size:6.8px;color:#0c0c0c;transform:scaleX(1.0039);">•</div>
<div class="t h" style="left:374.8px;top:35px;line-height:14px;height:14px;font-size:12.4px;color:#111;transform:scaleX(0.9282);">Using the unit’s internal amplifier</div>
<div class="t r" style="left:362px;top:53px;line-height:9px;height:9px;font-size:7.7px;color:#0c0c0c;transform:scaleX(0.9608);">Connect the speakers placed in Zone2 to the unit with speaker cables. For details, see</div>
<div class="t r" style="left:362px;top:65px;line-height:9px;height:9px;font-size:7.7px;color:#0c0c0c;transform:scaleX(0.9535);">“Connecting Zone2 speakers” (p.26).</div>
<div class="t h" style="left:374.8px;top:89px;line-height:14px;height:14px;font-size:12.4px;color:#111;transform:scaleX(0.9200);">Using an external amplifier</div>
<div class="t r" style="left:362px;top:107px;line-height:9px;height:9px;font-size:7.7px;color:#0c0c0c;transform:scaleX(0.9770);">Connect the external amplifier placed in Zone2 to the unit with a stereo pin cable.</div>
<div class="t b" style="left:363.6px;top:126px;line-height:7px;height:7px;font-size:6.7px;color:#0c0c0c;transform:scaleX(0.9318);">The unit (rear)</div>
<div class="t b" style="left:442.5px;top:184px;line-height:7px;height:7px;font-size:6.7px;color:#0c0c0c;transform:scaleX(0.9055);">ZONE2 OUT jacks</div>
<div class="t b" style="left:516.8px;top:224px;line-height:7px;height:7px;font-size:6.7px;color:#0c0c0c;transform:scaleX(0.9550);">External amplifier</div>
<div class="t b" style="left:525.9px;top:232px;line-height:7px;height:7px;font-size:6.7px;color:#0c0c0c;transform:scaleX(0.9477);">Audio input</div>
<div class="t b" style="left:521.2px;top:239px;line-height:7px;height:7px;font-size:6.7px;color:#0c0c0c;transform:scaleX(0.9304);">(analog stereo)</div>
<div class="t b" style="left:409.1px;top:388px;line-height:7px;height:7px;font-size:6.7px;color:#0c0c0c;transform:scaleX(0.9187);">Main zone</div>
<div class="t b" style="left:535.3px;top:354px;line-height:7px;height:7px;font-size:6.7px;color:#0c0c0c;transform:scaleX(0.8983);">Zone2</div>
<div class="t m" style="left:361.7px;top:417px;line-height:7px;height:7px;font-size:6.8px;color:#0c0c0c;transform:scaleX(0.9227);">You can adjust the volume for Zone2 output with the unit. When using an external amplifier with volume control,</div>
<div class="t m" style="left:361.7px;top:427px;line-height:7px;height:7px;font-size:6.8px;color:#0c0c0c;transform:scaleX(0.9430);">set “Volume” (p.118) in the “Setup” menu to “Fixed”.</div>
</div></body></html>
